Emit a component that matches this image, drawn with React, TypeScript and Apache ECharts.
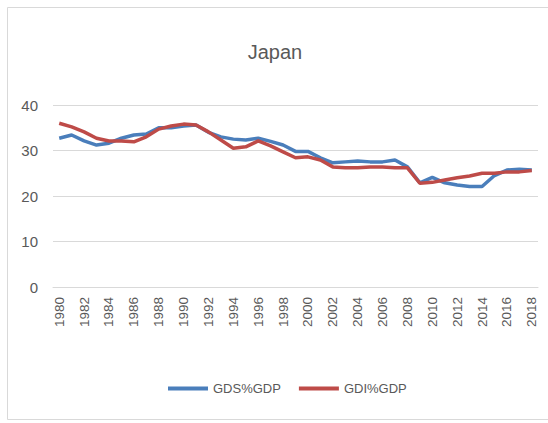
import React, { useEffect, useRef } from "react";
import * as echarts from "echarts";

const years: string[] = [];
for (let y = 1980; y <= 2018; y++) years.push(String(y));

const gdsGdp = [
  32.7, 33.4, 32.1, 31.2, 31.6, 32.7, 33.4, 33.6, 35.0, 35.0,
  35.4, 35.6, 34.0, 33.0, 32.5, 32.3, 32.7, 32.0, 31.2, 29.8,
  29.8, 28.4, 27.3, 27.5, 27.7, 27.5, 27.5, 27.9, 26.4, 22.9,
  24.1, 22.9, 22.4, 22.1, 22.1, 24.5, 25.7, 25.9, 25.7,
];

const gdiGdp = [
  36.0, 35.2, 34.1, 32.7, 32.1, 32.1, 31.9, 33.0, 34.7, 35.4,
  35.8, 35.6, 34.1, 32.3, 30.5, 30.8, 32.1, 31.0, 29.7, 28.4,
  28.6, 27.9, 26.4, 26.2, 26.2, 26.4, 26.4, 26.2, 26.2, 22.8,
  23.0, 23.5, 24.0, 24.4, 25.0, 25.0, 25.3, 25.3, 25.6,
];

const yTicks = { min: 0, max: 40, interval: 10 };

const TEXT = "#595959";
const FONT = "'Liberation Sans', 'Open Sans', sans-serif";

export default function App() {
  const ref = useRef<HTMLDivElement>(null);

  useEffect(() => {
    document.body.style.margin = "0";
    if (!ref.current) return;
    const chart = echarts.init(ref.current, null, { renderer: "svg" });
    chart.setOption({
      animation: false,
      backgroundColor: "#ffffff",
      title: {
        text: "Japan",
        left: 270,
        top: 37,
        textAlign: "center",
        textStyle: { color: TEXT, fontSize: 20, fontWeight: "normal", fontFamily: FONT },
      },
      graphic: [
        {
          type: "rect",
          shape: { x: 7.5, y: 7.5, width: 560, height: 412 },
          style: { fill: "none", stroke: "#d9d9d9", lineWidth: 1 },
          silent: true,
        },
      ],
      grid: { left: 53, right: 10, top: 105, bottom: 136 },
      legend: {
        bottom: 23,
        left: 163,
        icon: "rect",
        itemWidth: 40,
        itemHeight: 4,
        itemGap: 18,
        textStyle: { color: TEXT, fontSize: 13, fontFamily: FONT },
        data: ["GDS%GDP", "GDI%GDP"],
      },
      xAxis: {
        type: "category",
        data: years,
        boundaryGap: true,
        axisTick: { show: false },
        axisLine: { lineStyle: { color: "#d9d9d9", width: 1 } },
        axisLabel: {
          interval: 1,
          rotate: 90,
          margin: 10,
          color: TEXT,
          fontSize: 13.5,
          fontFamily: FONT,
        },
      },
      yAxis: {
        type: "value",
        min: yTicks.min,
        max: yTicks.max,
        interval: yTicks.interval,
        axisLine: { show: false },
        axisTick: { show: false },
        splitLine: { lineStyle: { color: "#d9d9d9", width: 1 } },
        axisLabel: { color: TEXT, fontSize: 15, margin: 15, fontFamily: FONT },
      },
      series: [
        {
          name: "GDS%GDP",
          type: "line",
          data: gdsGdp,
          showSymbol: false,
          symbol: "none",
          lineStyle: { color: "#4a7ebb", width: 3.5 },
          itemStyle: { color: "#4a7ebb" },
        },
        {
          name: "GDI%GDP",
          type: "line",
          data: gdiGdp,
          showSymbol: false,
          symbol: "none",
          lineStyle: { color: "#be4b48", width: 3.5 },
          itemStyle: { color: "#be4b48" },
        },
      ],
    });
    return () => chart.dispose();
  }, []);

  return <div ref={ref} style={{ width: 548, height: 423 }} />;
}
